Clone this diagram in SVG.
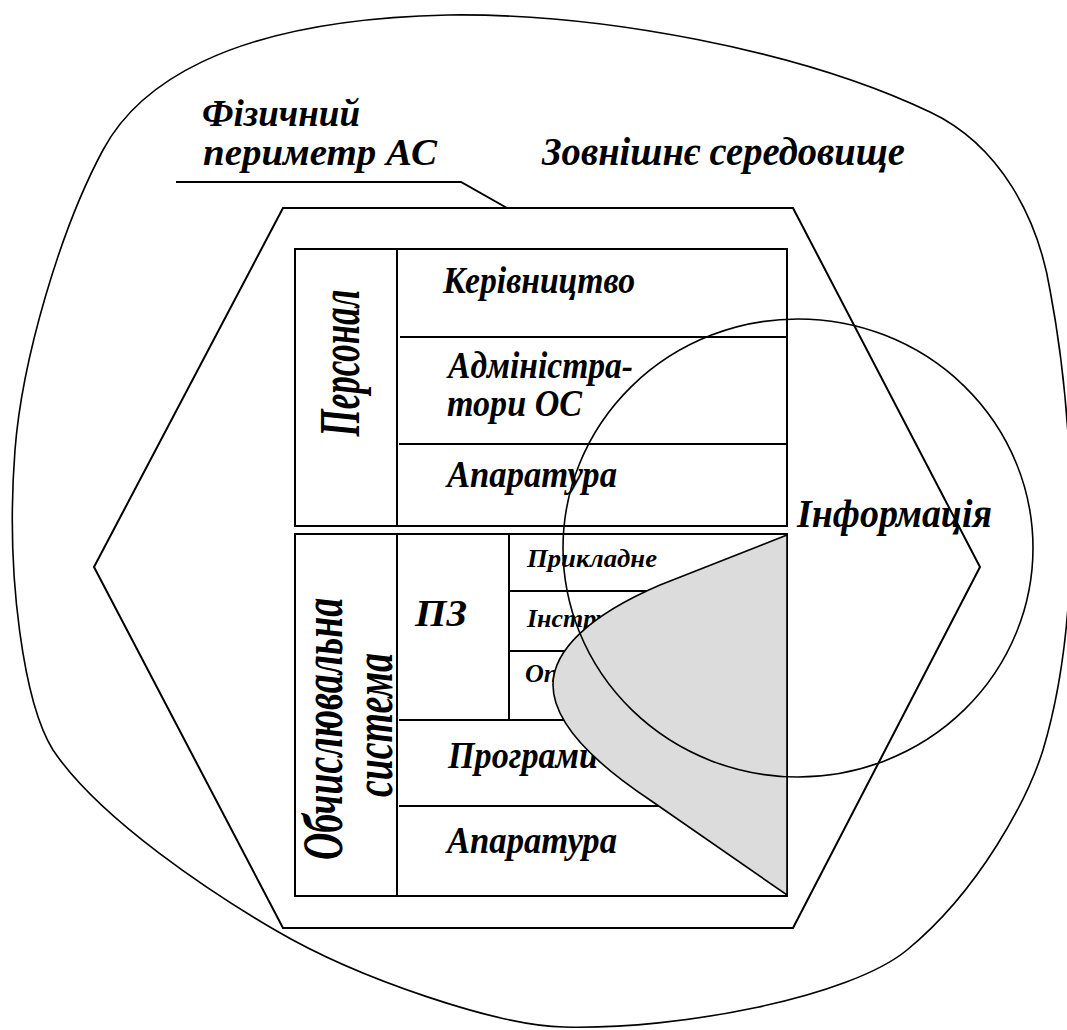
<svg xmlns="http://www.w3.org/2000/svg" width="1067" height="1030" viewBox="0 0 1067 1030">
<style>
  .t { font-family: "Liberation Serif", "Times New Roman", serif; font-weight: bold; font-style: italic; fill: #000; }
  .ln { fill: none; stroke: #000; stroke-width: 2; }
  .thin { fill: none; stroke: #000; stroke-width: 1.6; }
</style>
<rect x="0" y="0" width="1067" height="1030" fill="#fff"/>
<g id="environment">
  <path class="thin" d="M448,15 C600,13 800,50 930,112 C1000,145 1038,218 1050,290 C1070,396 1088,600 1043,750 C1028,798 980,890 907,950 C850,997 680,1030 564,1027 C500,1026 360,980 275,930 C215,895 100,820 53,750 C25,705 5,580 15,450 C22,360 60,230 103,150 C135,90 220,20 448,15 Z"/>
  <text class="t" x="542" y="165" font-size="40" textLength="363" lengthAdjust="spacingAndGlyphs">Зовнішнє середовище</text>
</g>
<g id="perimeter">
  <polygon class="ln" points="283,208 793,208 980,567 793,928 283,928 94,567"/>
  <text class="t" x="202" y="126" font-size="38" textLength="158" lengthAdjust="spacingAndGlyphs">Фізичний</text>
  <text class="t" x="203" y="165" font-size="38" textLength="234" lengthAdjust="spacingAndGlyphs">периметр АС</text>
</g>
<g id="connectors">
  <polyline class="ln" points="176,182 461,182 507,208"/>
</g>
<g id="personnel">
  <rect class="ln" x="295" y="249" width="492" height="277"/>
  <line class="ln" x1="397" y1="249" x2="397" y2="526"/>
  <line class="ln" x1="400" y1="337" x2="787" y2="337"/>
  <line class="ln" x1="399" y1="444" x2="787" y2="444"/>
  <text class="t" transform="translate(359,363) rotate(-90)" text-anchor="middle" font-size="56" textLength="147" lengthAdjust="spacingAndGlyphs">Персонал</text>
  <text class="t" x="443" y="293" font-size="37" textLength="192" lengthAdjust="spacingAndGlyphs">Керівництво</text>
  <text class="t" x="448" y="378" font-size="37" textLength="185" lengthAdjust="spacingAndGlyphs">Адміністра-</text>
  <text class="t" x="447" y="416" font-size="37" textLength="135" lengthAdjust="spacingAndGlyphs">тори ОС</text>
  <text class="t" x="447" y="487" font-size="37" textLength="170" lengthAdjust="spacingAndGlyphs">Апаратура</text>
</g>
<g id="computing-system">
  <rect class="ln" x="295" y="534" width="492" height="362"/>
  <line class="ln" x1="397" y1="534" x2="397" y2="896"/>
  <line class="ln" x1="509" y1="534" x2="509" y2="720"/>
  <line class="ln" x1="509" y1="591" x2="787" y2="591"/>
  <line class="ln" x1="509" y1="651" x2="787" y2="651"/>
  <line class="ln" x1="399" y1="720" x2="787" y2="720"/>
  <line class="ln" x1="399" y1="806" x2="787" y2="806"/>
  <text class="t" transform="translate(342,729) rotate(-90)" text-anchor="middle" font-size="56" textLength="262" lengthAdjust="spacingAndGlyphs">Обчислювальна</text>
  <text class="t" transform="translate(392,725) rotate(-90)" text-anchor="middle" font-size="54" textLength="144" lengthAdjust="spacingAndGlyphs">система</text>
  <text class="t" x="415" y="626" font-size="38" textLength="52" lengthAdjust="spacingAndGlyphs">ПЗ</text>
  <text class="t" x="527" y="567" font-size="26" textLength="130" lengthAdjust="spacingAndGlyphs">Прикладне</text>
  <text class="t" x="527" y="627" font-size="26">Інстру</text>
  <text class="t" x="525" y="682" font-size="26">Оп</text>
  <text class="t" x="448" y="768" font-size="37" textLength="150" lengthAdjust="spacingAndGlyphs">Програми</text>
  <text class="t" x="447" y="853" font-size="37" textLength="170" lengthAdjust="spacingAndGlyphs">Апаратура</text>
</g>
<g id="protected-zone">
  <path d="M787,535 L660,585 C590,615 553,650 553,685 C553,720 590,760 650,800 L787,895 Z" fill="#dcdcdc" stroke="#000" stroke-width="1.6"/>
</g>
<g id="information">
  <ellipse class="thin" cx="798" cy="548" rx="235" ry="229"/>
  <text class="t" x="797" y="527" font-size="40" textLength="195" lengthAdjust="spacingAndGlyphs">Інформація</text>
</g>
</svg>
